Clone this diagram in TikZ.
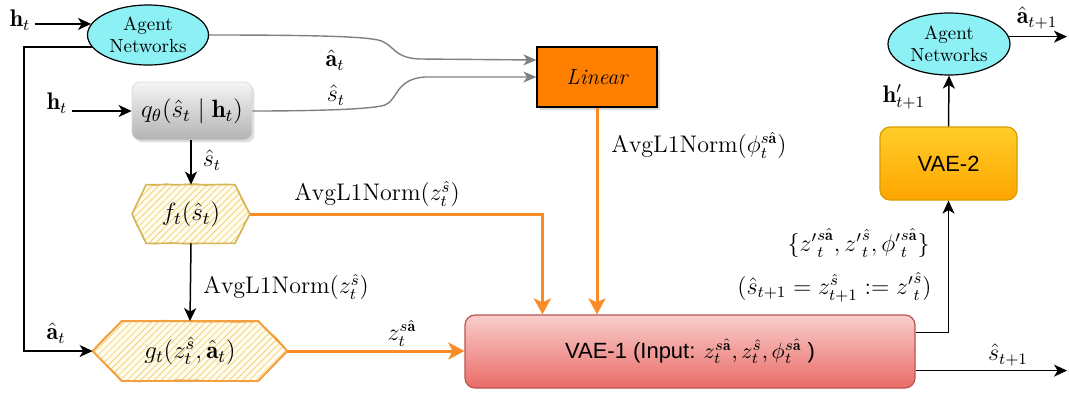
\RequirePackage{fix-cm}
\documentclass[tikz,border=0pt]{standalone}
\usepackage{amsmath}
\usepackage{fontspec}
\newfontfamily\arialfont{Liberation Sans}
\usetikzlibrary{arrows.meta,shapes.geometric,shadows,patterns.meta,calc,decorations.pathmorphing,backgrounds}

\definecolor{agentfill}{RGB}{140,240,245}
\definecolor{linfill}{RGB}{255,128,0}
\definecolor{orangeln}{RGB}{250,140,40}
\definecolor{grayln}{RGB}{128,128,128}
\definecolor{vaeAtop}{HTML}{F8CECC}
\definecolor{vaeAbot}{HTML}{EA6B66}
\definecolor{vaeAline}{HTML}{B85450}
\definecolor{vaeBtop}{HTML}{FFCD28}
\definecolor{vaeBbot}{HTML}{FFA500}
\definecolor{vaeBline}{HTML}{D79B00}
\definecolor{qtop}{HTML}{F5F5F5}
\definecolor{qbot}{HTML}{B3B3B3}
\definecolor{hexbg}{HTML}{FFFCEE}
\definecolor{hatch}{HTML}{F2D27A}
\definecolor{fborder}{HTML}{D6B656}
\definecolor{gborder}{HTML}{F2A040}

\tikzset{
  blk/.style={draw=black, line width=0.75pt, -{Stealth[length=6.5pt,width=6pt,inset=1.8pt]}},
  org/.style={draw=orangeln, line width=1.5pt, -{Stealth[length=8pt,width=8.5pt,inset=2pt]}},
  gry/.style={draw=grayln, line width=0.7pt, -{Stealth[length=6.5pt,width=5.5pt,inset=1.8pt]}},
  lbl/.style={font=\fontsize{12}{14}\selectfont, inner sep=0pt},
  agent/.style={ellipse, draw=black, line width=0.6pt, fill=agentfill, align=center,
    inner sep=0pt, font=\fontsize{9.5}{11}\selectfont},
  linbox/.style={rectangle, draw=black, line width=0.6pt, fill=linfill,
    minimum width=60pt, minimum height=30pt, inner sep=0pt,
    font=\fontsize{11}{13}\selectfont\itshape,
    drop shadow={shadow xshift=1.5pt, shadow yshift=-1.5pt, opacity=0.3}},
  qbox/.style={rectangle, rounded corners=4pt, draw=gray!30, line width=0.4pt,
    top color=qtop, bottom color=qbot, minimum width=60pt, minimum height=29pt,
    inner sep=0pt, font=\fontsize{12.5}{14}\selectfont,
    drop shadow={shadow xshift=1.2pt, shadow yshift=-1.2pt, opacity=0.25}},
  hexbox/.style={rectangle, inner sep=0pt, font=\fontsize{12.5}{14}\selectfont},
  vaebox/.style={rectangle, rounded corners=5pt, line width=0.6pt, inner sep=0pt,
    font=\arialfont\fontsize{11}{13}\selectfont},
  hexfill/.style={preaction={fill=hexbg},
    pattern={Lines[angle=45,distance=2.4pt,line width=0.4pt]}, pattern color=hatch},
  sketch/.style={decorate, decoration={random steps, segment length=5pt, amplitude=0.45pt}},
}

\begin{document}
\begin{tikzpicture}[x=0.5pt, y=-0.5pt]
\useasboundingbox (0,0) rectangle (1069,392);

% ---- nodes ----
\node[agent, minimum width=60.5pt, minimum height=30pt] (ag1) at (148,35) {Agent\\Networks};
\node[agent, minimum width=61pt, minimum height=31pt] (ag2) at (949,44) {Agent\\Networks};
\node[linbox] (lin) at (597,77) {Linear};
\node[qbox] (q) at (192,111) {$q_\theta(\hat s_t \mid \mathbf h_t)$};

\node[hexbox, minimum width=58.5pt, minimum height=29pt] (f) at (191,214) {$f_t(\hat s_t)$};
\node[hexbox, minimum width=97pt, minimum height=29.5pt] (g) at (190,351) {$g_t(z_t^{\hat s}, \hat{\mathbf a}_t)$};

% hatched hexagons behind the f and g texts
\begin{scope}[on background layer]
\path[hexfill] (f.west) -- ($(f.north west)+(14,0)$) -- ($(f.north east)+(-15,0)$) -- (f.east)
  -- ($(f.south east)+(-15,0)$) -- ($(f.south west)+(14,0)$) -- cycle;
\draw[fborder, line width=0.8pt] (f.west) -- ($(f.north west)+(14,0)$) -- ($(f.north east)+(-15,0)$) -- (f.east)
  -- ($(f.south east)+(-15,0)$) -- ($(f.south west)+(14,0)$) -- cycle;
\draw[fborder, line width=0.5pt, sketch] (f.west) -- ($(f.north west)+(14,0)$) -- ($(f.north east)+(-15,0)$) -- (f.east)
  -- ($(f.south east)+(-15,0)$) -- ($(f.south west)+(14,0)$) -- cycle;

\path[hexfill] (g.west) -- ($(g.north west)+(29,0)$) -- ($(g.north east)+(-29,0)$) -- (g.east)
  -- ($(g.south east)+(-29,0)$) -- ($(g.south west)+(29,0)$) -- cycle;
\draw[gborder, line width=0.9pt] (g.west) -- ($(g.north west)+(29,0)$) -- ($(g.north east)+(-29,0)$) -- (g.east)
  -- ($(g.south east)+(-29,0)$) -- ($(g.south west)+(29,0)$) -- cycle;
\draw[gborder, line width=0.6pt, sketch] (g.west) -- ($(g.north west)+(29,0)$) -- ($(g.north east)+(-29,0)$) -- (g.east)
  -- ($(g.south east)+(-29,0)$) -- ($(g.south west)+(29,0)$) -- cycle;
\end{scope}

\node[vaebox, draw=vaeAline, top color=vaeAtop, bottom color=vaeAbot,
  minimum width=225pt, minimum height=36.5pt] (v1) at (690,351.5)
  {VAE-1 (Input: $z_t^{s\hat{\mathbf a}}, z_t^{\hat s}, \phi_t^{s\hat{\mathbf a}}$ )};
\node[vaebox, draw=vaeBline, top color=vaeBtop, bottom color=vaeBbot,
  minimum width=68.5pt, minimum height=36.5pt] (v2) at (948.5,163.5) {VAE-2};

% ---- free ends and bends ----
\coordinate (lft) at (24,0);
\coordinate (o1) at (1067,37);
\coordinate (o2) at (1067,370);
\coordinate (v1up) at ($(v1.north east)+(0,18)$);
\coordinate (v1out) at ($(v1.south east)+(0,-18)$);
\coordinate (v1in) at ($(v1.north west)+(78,0)$);

% ---- text labels ----
\node[lbl] (ht1) at (20,20) {$\mathbf h_t$};
\node[lbl] (ht2) at (57,103) {$\mathbf h_t$};
\node[lbl] (la1) at (335,60) {$\hat{\mathbf a}_t$};
\node[lbl] (ls1) at (336,95) {$\hat s_t$};
\node[lbl] (ls2) at (212,160) {$\hat s_t$};
\node[lbl, anchor=west] (lnf) at (203,287) {$\mathrm{AvgL1Norm}(z_t^{\hat s})$};
\node[lbl] (lnu) at (377,194) {$\mathrm{AvgL1Norm}(z_t^{\hat s})$};
\node[lbl, anchor=west] (lnp) at (611,145) {$\mathrm{AvgL1Norm}(\phi_t^{s\hat{\mathbf a}})$};
\node[lbl] (la2) at (56,333) {$\hat{\mathbf a}_t$};
\node[lbl] (lz) at (402,333) {$z_t^{s\hat{\mathbf a}}$};
\node[lbl, anchor=east] (lset) at (930,243) {$\{{z'}^{s\hat{\mathbf a}}_t, {z'}^{\hat s}_t, {\phi'}^{s\hat{\mathbf a}}_t\}$};
\node[lbl, anchor=east] (lpar) at (932,287) {$(\hat s_{t+1} = z^{\hat s}_{t+1} := {z'}^{\hat s}_t)$};
\node[lbl] (ls3) at (1008,355) {$\hat s_{t+1}$};
\node[lbl] (lh) at (904,97) {$\mathbf h'_{t+1}$};
\node[lbl] (la3) at (1037,18) {$\hat{\mathbf a}_{t+1}$};

% ---- black connectors ----
\draw[blk] (ag1.169 -| ht1.east) ++(4,0) -- (ag1.169);
\draw[blk] (q.west -| ht2.east) ++(4,0) -- (q.west);
\draw[blk] (ag1.192) -- (ag1.192 -| lft) |- (g.west);
\draw[blk] (q.south -| f.north) -- (f.north);
\draw[blk] (f.south) -- (g.north);
\draw[blk] (v2.north) -- (ag2.south);
\draw[blk] (ag2.7) -- (ag2.7 -| o1);
\draw[blk] (v1up) -| (v2.south);
\draw[blk] (v1out) -- (v1out -| o2);

% ---- gray curved connectors into the linear layer ----
\draw[gry] (ag1.east) .. controls (300,35) and (360,36) .. (378,40)
  .. controls (395,44) and (392,58) .. (420,59) -- ($(lin.west)+(0,-17)$);
\draw[gry] (q.east) .. controls (300,111) and (370,110) .. (385,105)
  .. controls (398,100) and (395,79) .. (425,77) -- (lin.west);

% ---- orange connectors into VAE-1 ----
\draw[org] (f.east) -| (v1in);
\draw[org] (lin.south) -- (lin.south |- v1.north);
\draw[org] (g.east) -- (g.east -| v1.west);
\end{tikzpicture}
\end{document}
